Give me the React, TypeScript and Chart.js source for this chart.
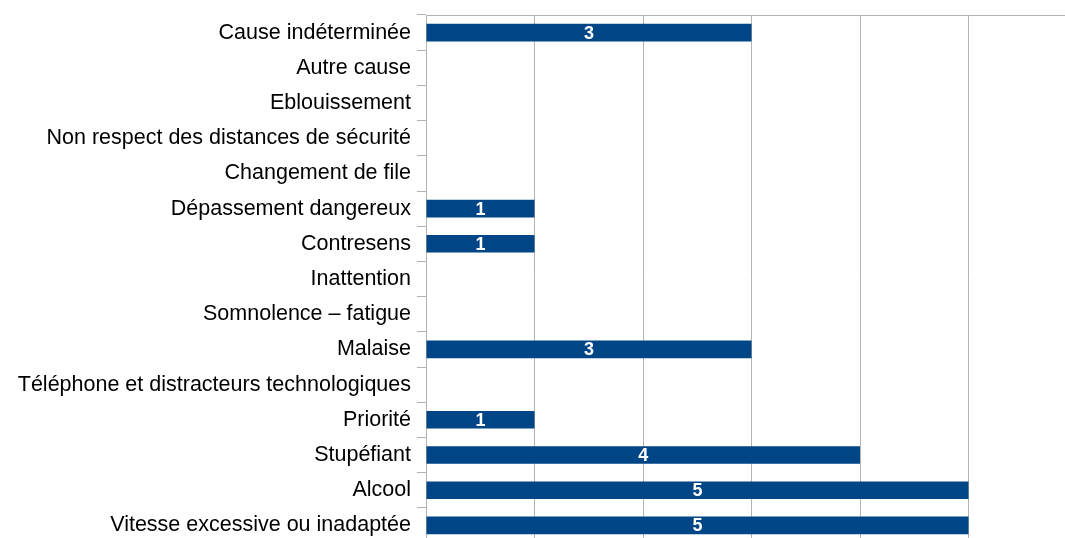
import React, { useEffect, useRef } from "react";
import { Chart, registerables } from "chart.js";

Chart.register(...registerables);

const categories: string[] = [
  "Cause indéterminée",
  "Autre cause",
  "Eblouissement",
  "Non respect des distances de sécurité",
  "Changement de file",
  "Dépassement dangereux",
  "Contresens",
  "Inattention",
  "Somnolence – fatigue",
  "Malaise",
  "Téléphone et distracteurs technologiques",
  "Priorité",
  "Stupéfiant",
  "Alcool",
  "Vitesse excessive ou inadaptée",
];

const values: number[] = [3, 0, 0, 0, 0, 1, 1, 0, 0, 3, 0, 1, 4, 5, 5];

const xMin = 0;
const xMax = 6;
const xStep = 1;

const FONT = "'Liberation Sans', Arial, sans-serif";
const GRID = "#b3b3b3";
const BAR = "#004586";

const labelPlugin = {
  id: "barLabels",
  afterDatasetsDraw(chart: any) {
    const ctx = chart.ctx;
    const meta = chart.getDatasetMeta(0);
    ctx.save();
    ctx.fillStyle = "#ffffff";
    ctx.font = `bold 18px ${FONT}`;
    ctx.textAlign = "center";
    ctx.textBaseline = "middle";
    meta.data.forEach((bar: any, i: number) => {
      const v = values[i];
      if (!v) return;
      const p = bar.getProps(["x", "y", "base"], true);
      ctx.fillText(String(v), (p.x + p.base) / 2, p.y + 1);
    });
    ctx.restore();
  },
};

export default function App() {
  const ref = useRef<HTMLCanvasElement | null>(null);

  useEffect(() => {
    if (!ref.current) return;
    const chart = new Chart(ref.current, {
      type: "bar",
      data: {
        labels: categories,
        datasets: [
          {
            data: values,
            backgroundColor: BAR,
            borderWidth: 0,
            categoryPercentage: 1,
            barPercentage: 0.5,
          },
        ],
      },
      options: {
        indexAxis: "y",
        animation: false,
        responsive: false,
        maintainAspectRatio: false,
        layout: { padding: { top: 15, right: 1, bottom: 1, left: 0 } },
        plugins: {
          legend: { display: false },
          tooltip: { enabled: false },
        },
        scales: {
          x: {
            position: "top",
            min: xMin,
            max: xMax,
            afterFit(scale: any) {
              scale.height = 0;
              scale.paddingLeft = 0;
              scale.paddingRight = 0;
            },
            ticks: { display: false, stepSize: xStep },
            grid: { color: GRID, lineWidth: 1, drawTicks: false },
            border: { display: true, color: GRID, width: 1 },
          },
          y: {
            position: "left",
            afterFit(scale: any) {
              scale.width = 426;
              scale.paddingTop = 0;
              scale.paddingBottom = 0;
            },
            ticks: {
              color: "#000000",
              font: { family: FONT, size: 21.5 },
              padding: 6,
              autoSkip: false,
            },
            grid: {
              offset: true,
              drawOnChartArea: false,
              drawTicks: true,
              tickLength: 9,
              color: GRID,
              lineWidth: 1,
            },
            border: { display: true, color: GRID, width: 1 },
          },
        },
      },
      plugins: [labelPlugin],
    });
    return () => chart.destroy();
  }, []);

  return (
    <div
      style={{
        position: "fixed",
        left: 0,
        top: 0,
        width: 1065,
        height: 538,
        overflow: "hidden",
        background: "#ffffff",
      }}
    >
      <canvas
        ref={ref}
        width={1078}
        height={544}
        style={{ display: "block", width: 1078, height: 544 }}
      />
    </div>
  );
}
